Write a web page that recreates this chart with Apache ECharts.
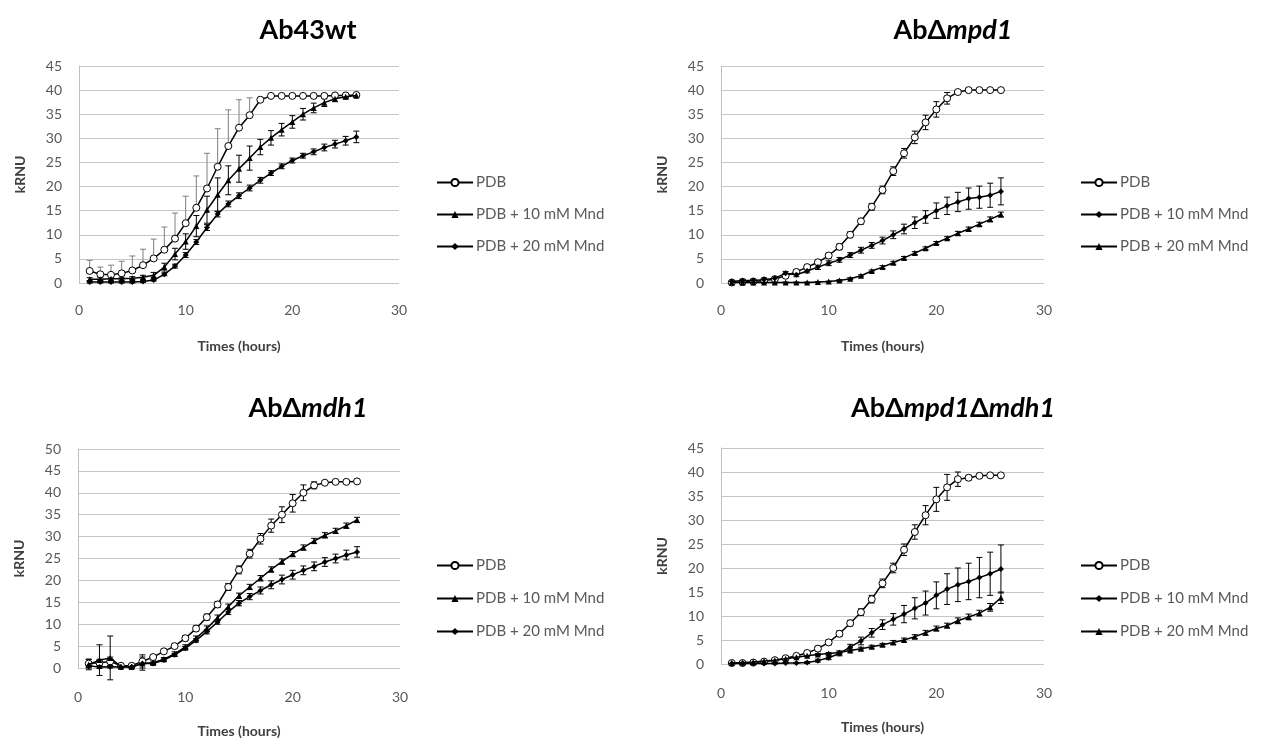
<!DOCTYPE html>
<html><head><meta charset="utf-8">
<script src="https://cdn.jsdelivr.net/npm/echarts@6/dist/echarts.min.js"></script>
<style>html,body{margin:0;padding:0;background:#fff}#c{width:1269px;height:742px}</style>
</head><body><div id="c"></div>
<script>
// ---- data ----
const hours = [1,2,3,4,5,6,7,8,9,10,11,12,13,14,15,16,17,18,19,20,21,22,23,24,25,26];
const xTicks = [0,10,20,30];
const seriesNames = ['PDB', 'PDB + 10 mM Mnd', 'PDB + 20 mM Mnd'];
const panelTitles = ['Ab43wt', 'AbΔmpd1', 'AbΔmdh1', 'AbΔmpd1Δmdh1'];

// Ab43wt
const wtPDB = [2.5,1.8,1.7,2.0,2.6,3.7,5.1,6.9,9.2,12.4,15.6,19.6,24.1,28.4,32.2,34.8,38.0,38.8,38.8,38.8,38.8,38.8,38.8,38.9,38.9,39.0];
const wtPDBErr = [2.2,1.5,2.0,2.5,3.0,3.3,4.0,4.7,5.3,5.6,6.6,7.3,7.9,7.5,5.8,3.6,0.5,0.3,0.3,0.3,0.3,0.3,0.3,0.3,0.3,0.3];
const wt10 = [0.8,0.8,0.9,0.9,1.0,1.2,1.6,3.3,6.0,8.6,11.8,15.2,18.3,21.3,23.7,25.9,28.2,30.1,31.8,33.4,35.0,36.3,37.4,38.2,38.6,38.9];
const wt10Err = [0.3,0.3,0.3,0.3,0.3,0.4,0.6,0.8,1.2,1.6,2.2,2.8,3.5,3.0,2.8,2.5,1.6,1.5,1.3,1.3,1.2,1.0,0.8,0.6,0.4,0.4];
const wt20 = [0.2,0.2,0.2,0.2,0.2,0.3,0.6,1.8,3.5,5.8,8.5,11.5,14.3,16.4,18.1,19.7,21.3,22.8,24.2,25.4,26.4,27.2,28.1,28.8,29.5,30.3];
const wt20Err = [0.2,0.2,0.2,0.2,0.2,0.2,0.2,0.3,0.4,0.5,0.5,0.6,0.6,0.6,0.6,0.6,0.6,0.5,0.5,0.5,0.5,0.6,0.7,0.8,0.9,1.2];

// AbΔmpd1
const mpdPDB = [0.1,0.2,0.3,0.5,0.8,1.5,2.3,3.3,4.3,5.7,7.5,10.0,12.8,15.8,19.3,23.2,26.9,30.2,33.3,36.0,38.3,39.6,40.0,40.0,40.0,40.0];
const mpdPDBErr = [0.2,0.2,0.2,0.2,0.3,0.4,0.4,0.5,0.5,0.5,0.6,0.6,0.6,0.7,0.8,0.9,1.0,1.3,1.5,1.6,1.2,0.4,0.2,0.2,0.2,0.2];
const mpd10 = [0.3,0.5,0.5,0.7,1.0,2.0,1.7,2.5,3.3,4.1,4.8,5.8,6.8,7.8,8.8,10.0,11.2,12.5,13.7,15.0,16.0,16.8,17.5,17.8,18.2,19.0];
const mpd10Err = [0.2,0.3,0.3,0.3,0.3,0.4,0.4,0.4,0.5,0.5,0.5,0.5,0.6,0.6,0.7,0.8,1.0,1.2,1.3,1.6,1.8,2.0,2.2,2.3,2.5,2.8];
const mpd20 = [0.1,0.1,0.1,0.1,0.1,0.1,0.1,0.1,0.2,0.3,0.5,0.9,1.5,2.5,3.3,4.2,5.2,6.2,7.2,8.3,9.3,10.3,11.2,12.2,13.2,14.2];
const mpd20Err = [0.1,0.1,0.1,0.1,0.1,0.1,0.1,0.1,0.1,0.1,0.2,0.2,0.2,0.2,0.3,0.3,0.3,0.3,0.3,0.3,0.3,0.4,0.4,0.4,0.5,0.5];

// AbΔmdh1
const mdhPDB = [1.0,1.2,1.5,0.5,0.5,1.5,2.5,3.8,5.0,6.8,9.0,11.6,14.5,18.5,22.4,26.1,29.5,32.5,35.0,37.6,40.0,41.7,42.3,42.5,42.5,42.6];
const mdhPDBErr = [1.0,0.8,1.0,0.4,0.3,1.5,0.5,0.5,0.5,0.6,0.6,0.7,0.7,0.8,0.9,1.0,1.2,1.5,1.8,2.0,1.8,0.8,0.3,0.3,0.3,0.3];
const mdh10 = [0.8,1.8,2.3,0.3,0.2,1.0,1.2,2.0,3.2,4.8,6.8,9.0,11.5,14.0,16.5,18.5,20.5,22.5,24.3,26.0,27.5,29.0,30.3,31.3,32.5,33.8];
const mdh10Err = [1.2,3.5,5.0,0.3,0.3,1.5,0.4,0.4,0.5,0.5,0.5,0.6,0.6,0.6,0.6,0.6,0.6,0.6,0.6,0.6,0.6,0.6,0.6,0.6,0.6,0.6];
const mdh20 = [0.5,0.2,0.3,0.2,0.3,1.0,1.0,1.8,3.0,4.5,6.3,8.3,10.5,12.8,14.8,16.3,17.7,19.0,20.2,21.3,22.3,23.2,24.2,25.0,25.8,26.5];
const mdh20Err = [0.3,0.3,0.3,0.2,0.2,0.3,0.3,0.3,0.3,0.4,0.4,0.5,0.5,0.6,0.6,0.7,0.8,0.9,1.0,1.0,1.0,1.0,1.0,1.0,1.1,1.2];

// AbΔmpd1Δmdh1
const dblPDB = [0.2,0.2,0.3,0.5,0.8,1.2,1.7,2.3,3.2,4.5,6.3,8.5,10.8,13.5,16.8,20.0,23.8,27.5,31.0,34.3,36.8,38.5,38.8,39.2,39.3,39.3];
const dblPDBErr = [0.1,0.1,0.1,0.2,0.2,0.3,0.3,0.4,0.5,0.5,0.6,0.6,0.7,0.8,0.9,1.0,1.2,1.5,2.0,2.5,2.7,1.5,0.5,0.3,0.3,0.3];
const dbl10 = [0.1,0.1,0.1,0.1,0.1,0.2,0.2,0.3,0.7,1.3,2.2,3.5,4.8,6.5,8.2,9.3,10.4,11.6,12.7,14.3,15.6,16.5,17.2,18.0,18.8,19.8];
const dbl10Err = [0.1,0.1,0.1,0.1,0.1,0.1,0.1,0.2,0.3,0.4,0.5,0.6,0.8,0.9,1.0,1.2,1.8,2.2,2.5,2.8,3.2,3.5,3.8,4.2,4.5,5.0];
const dbl20 = [0.2,0.3,0.4,0.6,0.8,1.1,1.4,1.7,2.0,2.2,2.4,2.8,3.2,3.6,4.0,4.5,5.0,5.7,6.5,7.4,8.0,9.0,9.8,10.6,11.8,13.8];
const dbl20Err = [0.1,0.1,0.1,0.2,0.2,0.2,0.2,0.2,0.2,0.2,0.3,0.3,0.3,0.3,0.3,0.4,0.4,0.4,0.5,0.5,0.5,0.6,0.6,0.6,0.8,1.2];

// ---- layout ----
const FONT = 'Lato';
const grids = [
  {left: 79, top: 66, width: 320, height: 217},
  {left: 721, top: 66, width: 323, height: 217},
  {left: 78, top: 449, width: 322, height: 219},
  {left: 721, top: 448, width: 323, height: 216}
];
const yMax = [45, 45, 50, 45];
const titlePos = [[308, 30], [953, 30], [308, 408], [953, 408]];
const legendPos = [[436, 175, 17], [1080, 175, 17], [436, 558, 18], [1080, 558, 18]];

// per panel: [values, errors, symbol, name index]
const panels = [
  [[wtPDB, wtPDBErr, 'circle', 0], [wt10, wt10Err, 'triangle', 1], [wt20, wt20Err, 'diamond', 2]],
  [[mpdPDB, mpdPDBErr, 'circle', 0], [mpd10, mpd10Err, 'diamond', 1], [mpd20, mpd20Err, 'triangle', 2]],
  [[mdhPDB, mdhPDBErr, 'circle', 0], [mdh10, mdh10Err, 'triangle', 1], [mdh20, mdh20Err, 'diamond', 2]],
  [[dblPDB, dblPDBErr, 'circle', 0], [dbl10, dbl10Err, 'diamond', 1], [dbl20, dbl20Err, 'triangle', 2]]
];
// panels 2 and 4 use different marker shapes for the same names; trailing space keeps legends separate
const nameSuffix = ['', ' ', '', ' '];

function errRender(color, upOnly) {
  return function (params, api) {
    const x = api.value(0), lo = api.value(1), hi = api.value(2);
    if (hi - lo <= 0) return null;
    const t = api.coord([x, hi]), b = api.coord([x, lo]);
    const hw = 3;
    const style = {stroke: color, lineWidth: 1};
    const ch = [
      {type: 'line', shape: {x1: t[0], y1: t[1], x2: b[0], y2: b[1]}, style: style},
      {type: 'line', shape: {x1: t[0] - hw, y1: t[1], x2: t[0] + hw, y2: t[1]}, style: style}
    ];
    if (!upOnly) ch.push({type: 'line', shape: {x1: b[0] - hw, y1: b[1], x2: b[0] + hw, y2: b[1]}, style: style});
    return {type: 'group', children: ch};
  };
}

const titles = [], xAxes = [], yAxes = [], legends = [], series = [];
panels.forEach((panel, p) => {
  const t = panelTitles[p];
  const parts = t.split('Δ');
  let txt = '{n|' + parts[0] + '}';
  for (let k = 1; k < parts.length; k++) txt += '{n|Δ}{i|' + parts[k] + '}';
  titles.push({
    text: txt, left: titlePos[p][0] - 5, top: titlePos[p][1] - 5,
    textAlign: 'center', textVerticalAlign: 'middle',
    textStyle: {
      rich: {
        n: {fontFamily: FONT, fontSize: 27, fontWeight: 'bold', color: '#000'},
        i: {fontFamily: FONT, fontSize: 27, fontWeight: 'bold', fontStyle: 'italic', color: '#000'}
      }
    }
  });
  xAxes.push({
    gridIndex: p, type: 'value', min: 0, max: 30, interval: 10,
    name: 'Times (hours)', nameLocation: 'middle', nameGap: 56,
    nameTextStyle: {fontFamily: FONT, fontSize: 14, fontWeight: 'bold', color: '#404040'},
    axisLine: {show: false}, axisTick: {show: false}, splitLine: {show: false},
    axisLabel: {margin: p < 2 ? 20 : 22, fontFamily: FONT, fontSize: 14, color: '#595959',
      formatter: v => (xTicks.indexOf(v) >= 0 ? String(v) : '')}
  });
  yAxes.push({
    gridIndex: p, type: 'value', min: 0, max: yMax[p], interval: 5,
    name: 'kRNU', nameLocation: 'middle', nameGap: 52,
    nameTextStyle: {fontFamily: FONT, fontSize: 14, fontWeight: 'bold', color: '#404040'},
    axisLine: {show: true, lineStyle: {color: '#bfbfbf', width: 1}}, axisTick: {show: false},
    splitLine: {show: true, lineStyle: {color: '#c6c6c6', width: 1}},
    axisLabel: {margin: 17, fontFamily: FONT, fontSize: 14, color: '#595959'}
  });
  const names = seriesNames.map((n, k) => k === 0 ? n : n + nameSuffix[p]);
  legends.push({
    orient: 'vertical', left: legendPos[p][0], top: legendPos[p][1], padding: 0,
    itemGap: legendPos[p][2], itemWidth: 36, itemHeight: 9,
    data: names,
    textStyle: {fontFamily: FONT, fontSize: 15, color: '#595959', padding: [0, 0, 0, -2]}
  });
  panel.forEach(([vals, errs, sym, ni], k) => {
    const upOnly = (p === 0 && ni === 0);
    series.push({
      type: 'custom', name: 'err-' + p + '-' + ni, xAxisIndex: p, yAxisIndex: p,
      data: hours.map((h, j) => [h, upOnly ? vals[j] : vals[j] - errs[j], vals[j] + errs[j]]),
      encode: {x: 0, y: [1, 2]},
      renderItem: errRender(upOnly ? '#7f7f7f' : '#000', upOnly),
      z: 2, animation: false, silent: true
    });
  });
  panel.forEach(([vals, errs, sym, ni], k) => {
    const isPDB = ni === 0;
    series.push({
      type: 'line', name: names[ni], xAxisIndex: p, yAxisIndex: p,
      data: hours.map((h, j) => [h, vals[j]]),
      symbol: sym, symbolSize: isPDB ? 7 : 6, showSymbol: true,
      lineStyle: {color: '#000', width: 1.5},
      itemStyle: isPDB ? {color: '#fff', borderColor: '#000', borderWidth: 1} : {color: '#000', borderColor: '#000', borderWidth: 0},
      z: 3 + k, animation: false, silent: true
    });
  });
});

const chart = echarts.init(document.getElementById('c'), null, {renderer: 'canvas'});
chart.setOption({
  backgroundColor: '#fff',
  animation: false,
  title: titles,
  grid: grids,
  xAxis: xAxes,
  yAxis: yAxes,
  legend: legends,
  series: series
});
</script>
</body></html>
